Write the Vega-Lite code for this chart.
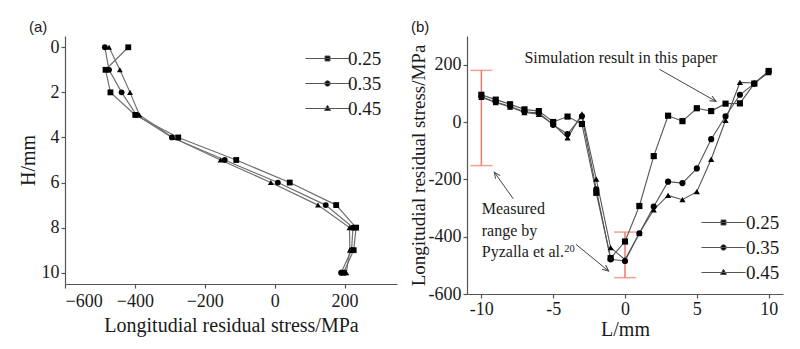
{
  "$schema": "https://vega.github.io/schema/vega-lite/v6.json",
  "background": "white",
  "padding": {"left": 18, "top": 20, "right": 10, "bottom": 6},
  "spacing": 12,
  "config": {
    "view": {"stroke": null},
    "font": "Liberation Serif",
    "axis": {
      "grid": false, "domainColor": "#555", "tickColor": "#555", "domainWidth": 1.2, "tickWidth": 1.2,
      "tickSize": 4, "labelFont": "Liberation Serif", "labelFontSize": 18, "labelColor": "#1a1a1a",
      "titleFont": "Liberation Serif", "titleFontSize": 20, "titleFontWeight": "normal", "titleColor": "#1a1a1a",
      "labelPadding": 2, "titlePadding": 3
    },
    "title": {"font": "Liberation Sans", "fontSize": 15, "fontWeight": "normal", "color": "#1a1a1a", "anchor": "start", "frame": "group", "offset": 1},
    "legend": {
      "orient": "none", "title": null, "symbolSize": 400, "labelOffset": 10, "rowPadding": 4, "padding": 0,
      "labelFont": "Liberation Serif", "labelFontSize": 19, "labelColor": "#1a1a1a", "symbolStrokeWidth": 1
    }
  },
  "datasets": {
    "a": [
      {"series": "0.25", "H": 0, "stress": -419}, {"series": "0.25", "H": 1, "stress": -484}, {"series": "0.25", "H": 2, "stress": -470},
      {"series": "0.25", "H": 3, "stress": -399}, {"series": "0.25", "H": 4, "stress": -276}, {"series": "0.25", "H": 5, "stress": -110},
      {"series": "0.25", "H": 6, "stress": 43}, {"series": "0.25", "H": 7, "stress": 176}, {"series": "0.25", "H": 8, "stress": 233},
      {"series": "0.25", "H": 9, "stress": 226}, {"series": "0.25", "H": 10, "stress": 197},
      {"series": "0.35", "H": 0, "stress": -486}, {"series": "0.35", "H": 1, "stress": -474}, {"series": "0.35", "H": 2, "stress": -438},
      {"series": "0.35", "H": 3, "stress": -396}, {"series": "0.35", "H": 4, "stress": -294}, {"series": "0.35", "H": 5, "stress": -143},
      {"series": "0.35", "H": 6, "stress": 9}, {"series": "0.35", "H": 7, "stress": 146}, {"series": "0.35", "H": 8, "stress": 224},
      {"series": "0.35", "H": 9, "stress": 220}, {"series": "0.35", "H": 10, "stress": 190},
      {"series": "0.45", "H": 0, "stress": -474}, {"series": "0.45", "H": 1, "stress": -443}, {"series": "0.45", "H": 2, "stress": -414},
      {"series": "0.45", "H": 3, "stress": -387}, {"series": "0.45", "H": 4, "stress": -292}, {"series": "0.45", "H": 5, "stress": -155},
      {"series": "0.45", "H": 6, "stress": -11}, {"series": "0.45", "H": 7, "stress": 124}, {"series": "0.45", "H": 8, "stress": 214},
      {"series": "0.45", "H": 9, "stress": 215}, {"series": "0.45", "H": 10, "stress": 205}
    ],
    "b": [
      {"series": "0.25", "L": -10, "stress": 95}, {"series": "0.25", "L": -9, "stress": 78}, {"series": "0.25", "L": -8, "stress": 62},
      {"series": "0.25", "L": -7, "stress": 44}, {"series": "0.25", "L": -6, "stress": 38}, {"series": "0.25", "L": -5, "stress": 0},
      {"series": "0.25", "L": -4, "stress": 19}, {"series": "0.25", "L": -3, "stress": -7}, {"series": "0.25", "L": -2, "stress": -247},
      {"series": "0.25", "L": -1, "stress": -475}, {"series": "0.25", "L": 0, "stress": -417}, {"series": "0.25", "L": 1, "stress": -293},
      {"series": "0.25", "L": 2, "stress": -119}, {"series": "0.25", "L": 3, "stress": 22}, {"series": "0.25", "L": 4, "stress": 3},
      {"series": "0.25", "L": 5, "stress": 48}, {"series": "0.25", "L": 6, "stress": 38}, {"series": "0.25", "L": 7, "stress": 64},
      {"series": "0.25", "L": 8, "stress": 65}, {"series": "0.25", "L": 9, "stress": 134}, {"series": "0.25", "L": 10, "stress": 178},
      {"series": "0.35", "L": -10, "stress": 88}, {"series": "0.35", "L": -9, "stress": 70}, {"series": "0.35", "L": -8, "stress": 55},
      {"series": "0.35", "L": -7, "stress": 36}, {"series": "0.35", "L": -6, "stress": 31}, {"series": "0.35", "L": -5, "stress": -10},
      {"series": "0.35", "L": -4, "stress": -42}, {"series": "0.35", "L": -3, "stress": 20}, {"series": "0.35", "L": -2, "stress": -235},
      {"series": "0.35", "L": -1, "stress": -479}, {"series": "0.35", "L": 0, "stress": -485}, {"series": "0.35", "L": 1, "stress": -388},
      {"series": "0.35", "L": 2, "stress": -295}, {"series": "0.35", "L": 3, "stress": -208}, {"series": "0.35", "L": 4, "stress": -213},
      {"series": "0.35", "L": 5, "stress": -162}, {"series": "0.35", "L": 6, "stress": -60}, {"series": "0.35", "L": 7, "stress": 20},
      {"series": "0.35", "L": 8, "stress": 95}, {"series": "0.35", "L": 9, "stress": 134}, {"series": "0.35", "L": 10, "stress": 176},
      {"series": "0.45", "L": -10, "stress": 86}, {"series": "0.45", "L": -9, "stress": 68}, {"series": "0.45", "L": -8, "stress": 52},
      {"series": "0.45", "L": -7, "stress": 33}, {"series": "0.45", "L": -6, "stress": 27}, {"series": "0.45", "L": -5, "stress": -8},
      {"series": "0.45", "L": -4, "stress": -55}, {"series": "0.45", "L": -3, "stress": 28}, {"series": "0.45", "L": -2, "stress": -199},
      {"series": "0.45", "L": -1, "stress": -438}, {"series": "0.45", "L": 0, "stress": -480}, {"series": "0.45", "L": 1, "stress": -388},
      {"series": "0.45", "L": 2, "stress": -306}, {"series": "0.45", "L": 3, "stress": -256}, {"series": "0.45", "L": 4, "stress": -271},
      {"series": "0.45", "L": 5, "stress": -243}, {"series": "0.45", "L": 6, "stress": -130}, {"series": "0.45", "L": 7, "stress": 6},
      {"series": "0.45", "L": 8, "stress": 138}, {"series": "0.45", "L": 9, "stress": 136}, {"series": "0.45", "L": 10, "stress": 172}
    ],
    "measured": [
      {"L": -10, "lo": -152, "hi": 180},
      {"L": 0, "lo": -543, "hi": -384}
    ],
    "notes": [
      {"id": "sim", "L": -7.0, "v": 207, "text": "Simulation result in this paper"},
      {"id": "meas", "L": -9.97, "v": -322, "text": "Measured\nrange by\nPyzalla et al."}
    ],
    "supers": [
      {"id": "ref", "L": -4.23, "v": -452, "text": "20"}
    ],
    "arrows": [
      {"id": 1, "L": 2.39, "v": 184, "L2": 6.34, "v2": 72},
      {"id": 2, "L": -7.78, "v": -268, "L2": -9.1, "v2": -175},
      {"id": 3, "L": -3.41, "v": -427, "L2": -1.14, "v2": -520}
    ]
  },
  "hconcat": [
    {
      "width": 332,
      "height": 248,
      "title": {"text": "(a)", "dx": -36},
      "resolve": {"scale": {"shape": "independent"}, "legend": {"shape": "independent"}},
      "layer": [
        {
          "mark": {"type": "rule", "strokeDash": [2, 2], "color": "#888", "strokeWidth": 1},
          "encoding": {
            "x": {"datum": 0, "type": "quantitative", "title": "Longitudial residual stress/MPa"},
            "y": {"datum": -0.1, "type": "quantitative", "title": "H/mm"},
            "y2": {"datum": 10.5}
          }
        },
        {
          "data": {"name": "a"},
          "mark": {"type": "line", "color": "#707070", "strokeWidth": 1.2},
          "encoding": {
            "x": {"field": "stress", "type": "quantitative", "title": "Longitudial residual stress/MPa",
                  "scale": {"domain": [-600, 350], "nice": false, "zero": false},
                  "axis": {"values": [-600, -400, -200, 0, 200], "labelPadding": 4, "titlePadding": 5}},
            "y": {"field": "H", "type": "quantitative", "title": "H/mm",
                  "scale": {"domain": [-0.5, 10.5], "reverse": true, "nice": false, "zero": false},
                  "axis": {"values": [0, 2, 4, 6, 8, 10]}},
            "detail": {"field": "series"},
            "order": {"field": "H"}
          }
        },
        {
          "data": {"name": "a"},
          "mark": {"type": "point", "filled": true, "color": "black", "opacity": 1, "size": 34},
          "encoding": {
            "x": {"field": "stress", "type": "quantitative", "title": "Longitudial residual stress/MPa"},
            "y": {"field": "H", "type": "quantitative", "title": "H/mm"},
            "shape": {"field": "series", "type": "nominal",
                      "scale": {"domain": ["0.25", "0.35", "0.45"], "range": ["square", "circle", "triangle-up"]},
                      "legend": null}
          }
        },
        {
          "data": {"name": "a"},
          "transform": [{"filter": "false"}],
          "mark": {"type": "point", "filled": true, "fill": "black", "stroke": "#555", "strokeWidth": 1, "opacity": 1},
          "encoding": {
            "x": {"field": "stress", "type": "quantitative", "title": "Longitudial residual stress/MPa"},
            "y": {"field": "H", "type": "quantitative", "title": "H/mm"},
            "shape": {"field": "series", "type": "nominal",
                      "scale": {"domain": ["0.25", "0.35", "0.45"], "range": ["M-2.2,0H2.2M-0.25,-0.25H0.25V0.25H-0.25Z", "M-2.2,0H2.2M-0.27,0A0.27,0.27,0,1,0,0.27,0A0.27,0.27,0,1,0,-0.27,0Z", "M-2.2,0H2.2M0,-0.33L0.3,0.2L-0.3,0.2Z"]},
                      "legend": {"legendX": 252, "legendY": 12}}
          }
        }
      ]
    },
    {
      "width": 316,
      "height": 258,
      "title": {"text": "(b)", "dx": -56},
      "resolve": {"scale": {"shape": "independent"}, "legend": {"shape": "independent"}},
      "layer": [
        {
          "mark": {"type": "rule", "strokeDash": [2, 2], "color": "#888", "strokeWidth": 1},
          "encoding": {
            "x": {"datum": -11, "type": "quantitative", "title": "L/mm"},
            "x2": {"datum": 10},
            "y": {"datum": 0, "type": "quantitative", "title": "Longitudial residual stress/MPa"}
          }
        },
        {
          "data": {"name": "measured"},
          "mark": {"type": "errorbar", "color": "#ef7b67", "thickness": 1.5, "ticks": {"size": 22, "thickness": 1.5, "color": "#ef7b67"}},
          "encoding": {
            "x": {"field": "L", "type": "quantitative", "title": "L/mm"},
            "y": {"field": "lo", "type": "quantitative", "title": "Longitudial residual stress/MPa"},
            "y2": {"field": "hi"}
          }
        },
        {
          "data": {"name": "b"},
          "mark": {"type": "line", "color": "#555", "strokeWidth": 1.1},
          "encoding": {
            "x": {"field": "L", "type": "quantitative", "title": "L/mm",
                  "scale": {"domain": [-11, 11], "nice": false, "zero": false},
                  "axis": {"values": [-10, -5, 0, 5, 10], "titlePadding": 1, "labelExpr": "replace(datum.label, '−', '-')"}},
            "y": {"field": "stress", "type": "quantitative", "title": "Longitudial residual stress/MPa",
                  "scale": {"domain": [-600, 300], "nice": false, "zero": false},
                  "axis": {"values": [-600, -400, -200, 0, 200], "titleFontSize": 19, "titlePadding": 0, "labelExpr": "replace(datum.label, '−', '-')"}},
            "detail": {"field": "series"}
          }
        },
        {
          "data": {"name": "b"},
          "mark": {"type": "point", "filled": true, "color": "black", "opacity": 1, "size": 38},
          "encoding": {
            "x": {"field": "L", "type": "quantitative", "title": "L/mm"},
            "y": {"field": "stress", "type": "quantitative", "title": "Longitudial residual stress/MPa"},
            "shape": {"field": "series", "type": "nominal",
                      "scale": {"domain": ["0.25", "0.35", "0.45"], "range": ["square", "circle", "triangle-up"]},
                      "legend": null}
          }
        },
        {
          "data": {"name": "b"},
          "transform": [{"filter": "false"}],
          "mark": {"type": "point", "filled": true, "fill": "black", "stroke": "#555", "strokeWidth": 1, "opacity": 1},
          "encoding": {
            "x": {"field": "L", "type": "quantitative", "title": "L/mm"},
            "y": {"field": "stress", "type": "quantitative", "title": "Longitudial residual stress/MPa"},
            "shape": {"field": "series", "type": "nominal",
                      "scale": {"domain": ["0.25", "0.35", "0.45"], "range": ["M-2.2,0H2.2M-0.25,-0.25H0.25V0.25H-0.25Z", "M-2.2,0H2.2M-0.27,0A0.27,0.27,0,1,0,0.27,0A0.27,0.27,0,1,0,-0.27,0Z", "M-2.2,0H2.2M0,-0.33L0.3,0.2L-0.3,0.2Z"]},
                      "legend": {"legendX": 246, "legendY": 176, "labelOffset": 12}}
          }
        },
        {
          "data": {"name": "notes"},
          "mark": {"type": "text", "align": "left", "baseline": "alphabetic", "font": "Liberation Serif", "fontSize": 16, "color": "#1a1a1a", "lineBreak": "\n", "lineHeight": 21.5},
          "encoding": {
            "x": {"field": "L", "type": "quantitative", "title": "L/mm"},
            "y": {"field": "v", "type": "quantitative", "title": "Longitudial residual stress/MPa"},
            "text": {"field": "text"}
          }
        },
        {
          "data": {"name": "supers"},
          "mark": {"type": "text", "align": "left", "baseline": "alphabetic", "font": "Liberation Serif", "fontSize": 10.5, "color": "#1a1a1a"},
          "encoding": {
            "x": {"field": "L", "type": "quantitative", "title": "L/mm"},
            "y": {"field": "v", "type": "quantitative", "title": "Longitudial residual stress/MPa"},
            "text": {"field": "text"}
          }
        },
        {
          "data": {"name": "arrows"},
          "mark": {"type": "rule", "color": "#444", "strokeWidth": 1},
          "encoding": {
            "x": {"field": "L", "type": "quantitative", "title": "L/mm"},
            "y": {"field": "v", "type": "quantitative", "title": "Longitudial residual stress/MPa"},
            "x2": {"field": "L2"},
            "y2": {"field": "v2"}
          }
        },
        {
          "data": {"name": "arrows"},
          "transform": [{"filter": "datum.id === 1"}],
          "mark": {"type": "point", "shape": "M-0.45,1L0,0L0.45,1", "filled": false, "stroke": "#444", "strokeWidth": 1, "opacity": 1, "size": 150, "angle": 119.6},
          "encoding": {
            "x": {"field": "L2", "type": "quantitative", "title": "L/mm"},
            "y": {"field": "v2", "type": "quantitative", "title": "Longitudial residual stress/MPa"}
          }
        },
        {
          "data": {"name": "arrows"},
          "transform": [{"filter": "datum.id === 2"}],
          "mark": {"type": "point", "shape": "M-0.45,1L0,0L0.45,1", "filled": false, "stroke": "#444", "strokeWidth": 1, "opacity": 1, "size": 150, "angle": 324.6},
          "encoding": {
            "x": {"field": "L2", "type": "quantitative", "title": "L/mm"},
            "y": {"field": "v2", "type": "quantitative", "title": "Longitudial residual stress/MPa"}
          }
        },
        {
          "data": {"name": "arrows"},
          "transform": [{"filter": "datum.id === 3"}],
          "mark": {"type": "point", "shape": "M-0.45,1L0,0L0.45,1", "filled": false, "stroke": "#444", "strokeWidth": 1, "opacity": 1, "size": 150, "angle": 129.3},
          "encoding": {
            "x": {"field": "L2", "type": "quantitative", "title": "L/mm"},
            "y": {"field": "v2", "type": "quantitative", "title": "Longitudial residual stress/MPa"}
          }
        }
      ]
    }
  ]
}
